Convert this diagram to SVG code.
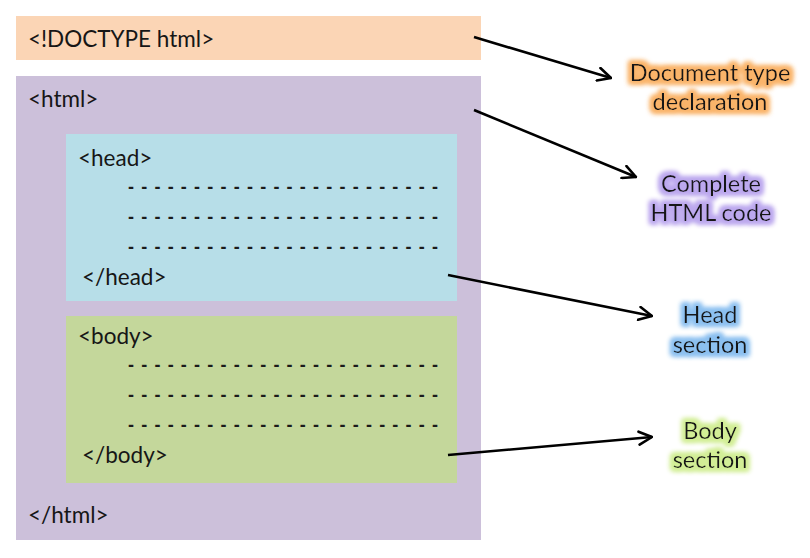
<svg xmlns="http://www.w3.org/2000/svg" width="810" height="558" viewBox="0 0 810 558">
<defs>
<style>
.t{font-family:Lato,"Open Sans","Liberation Sans",sans-serif;font-size:22.5px;fill:#161616}
.d{font-family:"Liberation Sans",sans-serif;font-size:18px;fill:#1b1b1b;font-weight:bold}
.lbl{font-family:Lato,"Open Sans","Liberation Sans",sans-serif;font-size:23.5px;fill:#161616;text-anchor:middle}
.c{stroke:#000;stroke-width:2.6;fill:none;marker-end:url(#ah)}
</style>
<marker id="ah" viewBox="0 0 12 12" refX="11" refY="6" markerWidth="6" markerHeight="6" orient="auto" markerUnits="strokeWidth">
<path d="M1,1 L11,6 L1,11" fill="none" stroke="#000" stroke-width="2" stroke-linecap="round" stroke-linejoin="round"/>
</marker>
<filter id="gO" x="-20%" y="-40%" width="140%" height="180%"><feMorphology in="SourceAlpha" operator="dilate" radius="2.5" result="m"/><feGaussianBlur in="m" stdDeviation="2.5" result="b"/><feFlood flood-color="#FAB46A"/><feComposite in2="b" operator="in" result="g"/><feMerge><feMergeNode in="g"/><feMergeNode in="g"/><feMergeNode in="SourceGraphic"/></feMerge></filter>
<filter id="gP" x="-20%" y="-40%" width="140%" height="180%"><feMorphology in="SourceAlpha" operator="dilate" radius="2.5" result="m"/><feGaussianBlur in="m" stdDeviation="2.5" result="b"/><feFlood flood-color="#BCA8EE"/><feComposite in2="b" operator="in" result="g"/><feMerge><feMergeNode in="g"/><feMergeNode in="g"/><feMergeNode in="SourceGraphic"/></feMerge></filter>
<filter id="gB" x="-20%" y="-40%" width="140%" height="180%"><feMorphology in="SourceAlpha" operator="dilate" radius="2.5" result="m"/><feGaussianBlur in="m" stdDeviation="2.5" result="b"/><feFlood flood-color="#8CC0F0"/><feComposite in2="b" operator="in" result="g"/><feMerge><feMergeNode in="g"/><feMergeNode in="g"/><feMergeNode in="SourceGraphic"/></feMerge></filter>
<filter id="gG" x="-20%" y="-40%" width="140%" height="180%"><feMorphology in="SourceAlpha" operator="dilate" radius="2.5" result="m"/><feGaussianBlur in="m" stdDeviation="2.5" result="b"/><feFlood flood-color="#D2EE96"/><feComposite in2="b" operator="in" result="g"/><feMerge><feMergeNode in="g"/><feMergeNode in="g"/><feMergeNode in="SourceGraphic"/></feMerge></filter>
</defs>
<rect width="810" height="558" fill="#fff"/>
<g id="doctype">
<rect x="16" y="16" width="465" height="44" fill="#FBD5B5"/>
<text class="t" x="28" y="47">&lt;!DOCTYPE html&gt;</text>
</g>
<g id="html">
<rect x="16" y="76" width="465" height="464" fill="#CCC0DA"/>
<text class="t" x="28" y="107">&lt;html&gt;</text>
<text class="t" x="28" y="523">&lt;/html&gt;</text>
</g>
<g id="head">
<rect x="66" y="134" width="391" height="167" fill="#B7DEE8"/>
<text class="t" x="78" y="166">&lt;head&gt;</text>
<text class="d" x="128" y="193" textLength="310" lengthAdjust="spacing">- - - - - - - - - - - - - - - - - - - - - - - -</text>
<text class="d" x="128" y="223" textLength="310" lengthAdjust="spacing">- - - - - - - - - - - - - - - - - - - - - - - -</text>
<text class="d" x="128" y="253" textLength="310" lengthAdjust="spacing">- - - - - - - - - - - - - - - - - - - - - - - -</text>
<text class="t" x="82" y="285">&lt;/head&gt;</text>
</g>
<g id="body">
<rect x="66" y="316" width="391" height="167" fill="#C4D79B"/>
<text class="t" x="78" y="344">&lt;body&gt;</text>
<text class="d" x="128" y="371" textLength="310" lengthAdjust="spacing">- - - - - - - - - - - - - - - - - - - - - - - -</text>
<text class="d" x="128" y="401" textLength="310" lengthAdjust="spacing">- - - - - - - - - - - - - - - - - - - - - - - -</text>
<text class="d" x="128" y="431" textLength="310" lengthAdjust="spacing">- - - - - - - - - - - - - - - - - - - - - - - -</text>
<text class="t" x="82" y="463">&lt;/body&gt;</text>
</g>
<g id="connectors">
<line class="c" x1="474" y1="37" x2="611" y2="78"/>
<line class="c" x1="474" y1="110" x2="636" y2="177"/>
<line class="c" x1="448" y1="275" x2="652" y2="316"/>
<line class="c" x1="448" y1="455" x2="652" y2="437"/>
</g>
<g id="label-doctype" filter="url(#gO)">
<text class="lbl" x="710" y="81">Document type</text>
<text class="lbl" x="710" y="110">declaration</text>
</g>
<g id="label-html" filter="url(#gP)">
<text class="lbl" x="711" y="192">Complete</text>
<text class="lbl" x="711" y="221">HTML code</text>
</g>
<g id="label-head" filter="url(#gB)">
<text class="lbl" x="710" y="323">Head</text>
<text class="lbl" x="710" y="353">section</text>
</g>
<g id="label-body" filter="url(#gG)">
<text class="lbl" x="710" y="439">Body</text>
<text class="lbl" x="710" y="468">section</text>
</g>
</svg>
